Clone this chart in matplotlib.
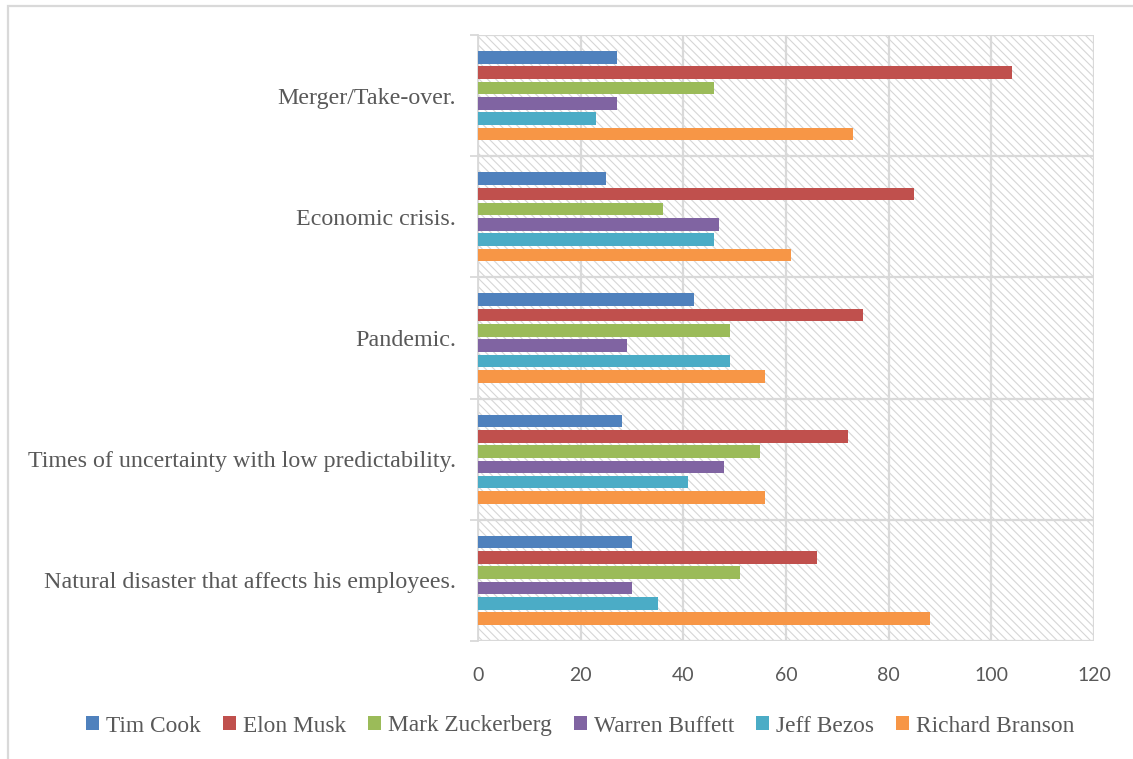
import matplotlib.pyplot as plt
import numpy as np
from matplotlib.patches import Rectangle

categories = ["Natural disaster that affects his employees.",
              "Times of uncertainty with low predictability.",
              "Pandemic.",
              "Economic crisis.",
              "Merger/Take-over."]
names = ["Tim Cook", "Elon Musk", "Mark Zuckerberg", "Warren Buffett", "Jeff Bezos", "Richard Branson"]
colors = ["#4F81BD", "#C0504D", "#9BBB59", "#8064A2", "#4BACC6", "#F79646"]

# values per person, in category order (bottom to top)
tim_cook = [30, 28, 42, 25, 27]
elon_musk = [66, 72, 75, 85, 104]
mark_zuckerberg = [51, 55, 49, 36, 46]
warren_buffett = [30, 48, 29, 47, 27]
jeff_bezos = [35, 41, 49, 46, 23]
richard_branson = [88, 56, 56, 61, 73]
series = [tim_cook, elon_musk, mark_zuckerberg, warren_buffett, jeff_bezos, richard_branson]

text_col = "#595959"
grid_col = "#d9d9d9"
plt.rcParams['hatch.linewidth'] = 0.8

fig = plt.figure(figsize=(11.33, 7.59), dpi=100)
ax = fig.add_axes([478/1133, 1-641/759, 616/1133, 606/759])

# hatched plot background
ax.add_patch(Rectangle((0, 0), 1, 1, transform=ax.transAxes, facecolor="white",
                       edgecolor="#d6d6d6", hatch="\\\\\\\\", lw=0, zorder=0))

y = np.arange(len(categories))
pitch = 0.1264
for j, (vals, name, c) in enumerate(zip(series, names, colors)):
    ax.barh(y + (2.5 - j) * pitch, vals, height=0.104, color=c, label=name, zorder=3)

ax.set_xlim(0, 120)
ax.set_ylim(-0.5, 4.5)
ax.set_xticks(np.arange(0, 121, 20))
ax.set_yticks(y)
ax.set_yticklabels(categories, family="Liberation Serif", fontsize=17.3, color=text_col)
ax.set_yticks(np.arange(-0.5, 5, 1), minor=True)
ax.tick_params(axis="y", which="major", length=0, pad=16)
ax.tick_params(axis="y", which="minor", length=6, color=grid_col, width=1.3)
ax.tick_params(axis="x", length=0, pad=19, labelsize=14, labelcolor=text_col)
for lab in ax.get_xticklabels():
    lab.set_family("Lato")

ax.grid(True, axis="x", color=grid_col, lw=1.6, zorder=1)
ax.grid(True, axis="y", which="minor", color=grid_col, lw=1.6, zorder=1)
ax.set_axisbelow(True)
for s in ["top", "right", "bottom"]:
    ax.spines[s].set_visible(False)
ax.spines["left"].set_color(grid_col)
ax.spines["left"].set_linewidth(1.3)

fig.legend(loc="center", bbox_to_anchor=(0.512, 1-726/759), ncol=6, frameon=False,
           prop={"family": "Liberation Serif", "size": 16.8}, labelcolor=text_col,
           handlelength=0.55, handleheight=0.55, handletextpad=0.3, columnspacing=0.95)

# outer border
fig.patches.append(Rectangle((8/1133, -0.05), 1.1, 1.05 - 6/759, transform=fig.transFigure,
                             fill=False, edgecolor=grid_col, lw=1.6))

fig.savefig("out.png", dpi=100)
